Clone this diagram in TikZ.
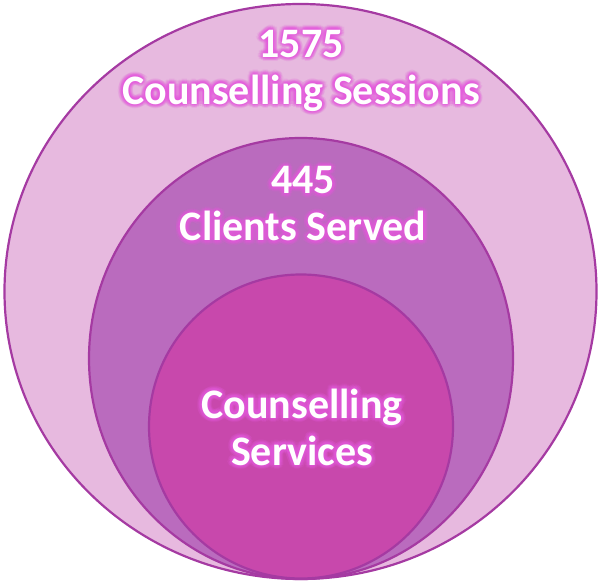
\documentclass[tikz,border=0pt]{standalone}
\usepackage{fontspec}
\setmainfont{Carlito}
\usetikzlibrary{calc}
\definecolor{outerfill}{HTML}{E7B9DF}
\definecolor{middlefill}{HTML}{BA6BBE}
\definecolor{innerfill}{HTML}{C848AC}
\definecolor{ringline}{HTML}{A53AA2}
\definecolor{glowpink}{HTML}{E35ADB}
\tikzset{
  ring/.style={draw=ringline, line width=2.2pt},
  ringtext/.style={font=\bfseries\fontsize{42}{47}\selectfont, align=center,
    inner sep=0pt, text=white},
  glow/.style={ringtext, text=glowpink, opacity=0.16},
}
% white text with a soft pink halo
\newcommand\glowlabel[3]{%
  \foreach \r in {1.5,3,4.5}
    \foreach \a in {0,30,...,330}
      \node[glow] at ($(#2)+(\a:\r pt)$) {#3};
  \node[ringtext] (#1) at (#2) {#3};}
\begin{document}
\begin{tikzpicture}[x=1pt, y=1pt]
  \useasboundingbox (0,0) rectangle (601,586);
  % centres of the rings and of the texts
  \path
  (300.5,294.5) coordinate (O1)
  (301,227.5) coordinate (O2)
  (301,159.5) coordinate (O3)
  (301,515.5) coordinate (T1)
  (303,382) coordinate (T2)
  (302,159) coordinate (T3);
  % three rings, all touching at the bottom
  \draw[ring, fill=outerfill] (O1) ellipse [x radius=296, y radius=287.5];
  \draw[ring, fill=middlefill] (O2) ellipse [x radius=212, y radius=220.5];
  \draw[ring, fill=innerfill] (O3) circle (152);
  % labels
  \glowlabel{sessions}{T1}{1575\\Counselling Sessions}
  \glowlabel{clients}{T2}{445\\Clients Served}
  \glowlabel{services}{T3}{Counselling\\Services}
\end{tikzpicture}
\end{document}
